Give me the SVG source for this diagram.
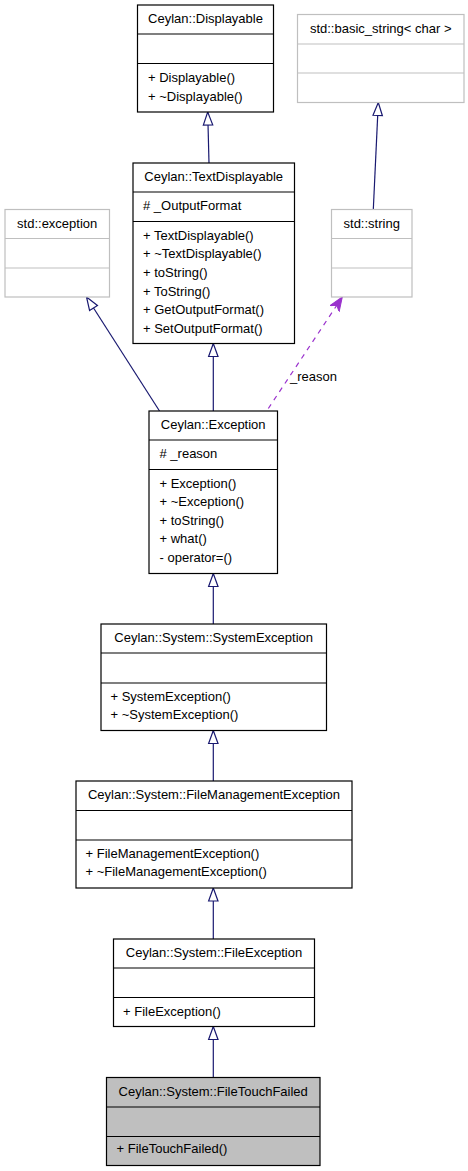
<svg xmlns="http://www.w3.org/2000/svg" width="468" height="1171" viewBox="0 0 468 1171">
<style>
text{font-family:"Liberation Sans",Arial,Helvetica,sans-serif;font-size:13px;fill:#000}
.t{text-anchor:middle}
.box{fill:#fff;stroke:#000;stroke-width:1.2}
.ext{fill:#fff;stroke:#bfbfbf;stroke-width:1.2}
.cur{fill:#bfbfbf;stroke:#000;stroke-width:1.2}
.dv{stroke:#000;stroke-width:1.2}
.dvx{stroke:#bfbfbf;stroke-width:1.2}
.inh{fill:none;stroke:#191970;stroke-width:1.2}
.use{fill:none;stroke:#9a32cd;stroke-width:1.2;stroke-dasharray:5,5}
</style>
<defs>
<marker id="tri" markerUnits="userSpaceOnUse" markerWidth="16" markerHeight="12" refX="14" refY="6" orient="auto">
<path d="M1,1.3 L14,6 L1,10.7 Z" fill="#fff" stroke="#191970" stroke-width="1.2"/>
</marker>
<marker id="vee" markerUnits="userSpaceOnUse" markerWidth="16" markerHeight="14" refX="14" refY="7" orient="auto">
<path d="M14,7 L0,1.5 L4,7 L0,12.5 Z" fill="#9a32cd" stroke="#9a32cd" stroke-width="1"/>
</marker>
</defs>
<g id="connectors">
<path class="inh" d="M209,163 L207.7,112" marker-end="url(#tri)"/>
<path class="inh" d="M373.3,209.5 L378.3,102.5" marker-end="url(#tri)"/>
<path class="inh" d="M159.5,411 L86.5,297" marker-end="url(#tri)"/>
<path class="inh" d="M213.3,411 L213.3,343.5" marker-end="url(#tri)"/>
<path class="use" d="M268.3,408.5 L342.3,297" marker-end="url(#vee)"/>
<text x="290" y="380.5">_reason</text>
<path class="inh" d="M213.3,624 L213.3,573.5" marker-end="url(#tri)"/>
<path class="inh" d="M213.3,781 L213.3,730.5" marker-end="url(#tri)"/>
<path class="inh" d="M213.3,939 L213.3,888" marker-end="url(#tri)"/>
<path class="inh" d="M213.3,1077.5 L213.3,1026.5" marker-end="url(#tri)"/>
</g>
<g id="Displayable">
<rect class="box" x="137.5" y="5" width="136" height="107"/>
<line class="dv" x1="137.5" y1="34" x2="273.5" y2="34"/>
<line class="dv" x1="137.5" y1="63.5" x2="273.5" y2="63.5"/>
<text class="t" x="205.5" y="23">Ceylan::Displayable</text>
<text x="148" y="82">+ Displayable()</text>
<text x="148" y="100.6">+ ~Displayable()</text>
</g>
<g id="basic_string">
<rect class="ext" x="297.5" y="14.5" width="166.5" height="88"/>
<line class="dvx" x1="297.5" y1="44" x2="464" y2="44"/>
<line class="dvx" x1="297.5" y1="73" x2="464" y2="73"/>
<text class="t" x="380.7" y="32.5">std::basic_string&lt; char &gt;</text>
</g>
<g id="std_exception">
<rect class="ext" x="5" y="209.5" width="104.5" height="87.5"/>
<line class="dvx" x1="5" y1="238.5" x2="109.5" y2="238.5"/>
<line class="dvx" x1="5" y1="268" x2="109.5" y2="268"/>
<text class="t" x="57.2" y="227.5">std::exception</text>
</g>
<g id="TextDisplayable">
<rect class="box" x="133" y="163" width="161.5" height="180.5"/>
<line class="dv" x1="133" y1="192" x2="294.5" y2="192"/>
<line class="dv" x1="133" y1="221.5" x2="294.5" y2="221.5"/>
<text class="t" x="213.7" y="181">Ceylan::TextDisplayable</text>
<text x="143" y="210">#  _OutputFormat</text>
<text x="143" y="239.8">+ TextDisplayable()</text>
<text x="143" y="258.4">+ ~TextDisplayable()</text>
<text x="143" y="277">+ toString()</text>
<text x="143" y="295.6">+ ToString()</text>
<text x="143" y="314.2">+ GetOutputFormat()</text>
<text x="143" y="332.8">+ SetOutputFormat()</text>
</g>
<g id="std_string">
<rect class="ext" x="331.5" y="209.5" width="80.5" height="87.5"/>
<line class="dvx" x1="331.5" y1="238.5" x2="412" y2="238.5"/>
<line class="dvx" x1="331.5" y1="268" x2="412" y2="268"/>
<text class="t" x="371.7" y="227.5">std::string</text>
</g>
<g id="Exception">
<rect class="box" x="149" y="411" width="128.5" height="162.5"/>
<line class="dv" x1="149" y1="440" x2="277.5" y2="440"/>
<line class="dv" x1="149" y1="469.5" x2="277.5" y2="469.5"/>
<text class="t" x="213.2" y="429">Ceylan::Exception</text>
<text x="159.5" y="458">#  _reason</text>
<text x="159.5" y="487.5">+ Exception()</text>
<text x="159.5" y="506">+ ~Exception()</text>
<text x="159.5" y="524.6">+ toString()</text>
<text x="159.5" y="543.2">+ what()</text>
<text x="159.5" y="561.8">- operator=()</text>
</g>
<g id="SystemException">
<rect class="box" x="101" y="624" width="225.5" height="106.5"/>
<line class="dv" x1="101" y1="653" x2="326.5" y2="653"/>
<line class="dv" x1="101" y1="683" x2="326.5" y2="683"/>
<text class="t" x="213.7" y="642">Ceylan::System::SystemException</text>
<text x="110.5" y="700.5">+ SystemException()</text>
<text x="110.5" y="719.3">+ ~SystemException()</text>
</g>
<g id="FileManagementException">
<rect class="box" x="76" y="781" width="276" height="107"/>
<line class="dv" x1="76" y1="810.5" x2="352" y2="810.5"/>
<line class="dv" x1="76" y1="840" x2="352" y2="840"/>
<text class="t" x="214" y="799">Ceylan::System::FileManagementException</text>
<text x="85.5" y="857.5">+ FileManagementException()</text>
<text x="85.5" y="876.3">+ ~FileManagementException()</text>
</g>
<g id="FileException">
<rect class="box" x="113.5" y="939" width="201" height="87.5"/>
<line class="dv" x1="113.5" y1="968" x2="314.5" y2="968"/>
<line class="dv" x1="113.5" y1="997.5" x2="314.5" y2="997.5"/>
<text class="t" x="214" y="957">Ceylan::System::FileException</text>
<text x="123" y="1015.5">+ FileException()</text>
</g>
<g id="FileTouchFailed">
<rect class="cur" x="106.5" y="1077.5" width="213.5" height="88"/>
<line class="dv" x1="106.5" y1="1107" x2="320" y2="1107"/>
<line class="dv" x1="106.5" y1="1136.5" x2="320" y2="1136.5"/>
<text class="t" x="213.2" y="1095.5">Ceylan::System::FileTouchFailed</text>
<text x="116.5" y="1153">+ FileTouchFailed()</text>
</g>
</svg>
